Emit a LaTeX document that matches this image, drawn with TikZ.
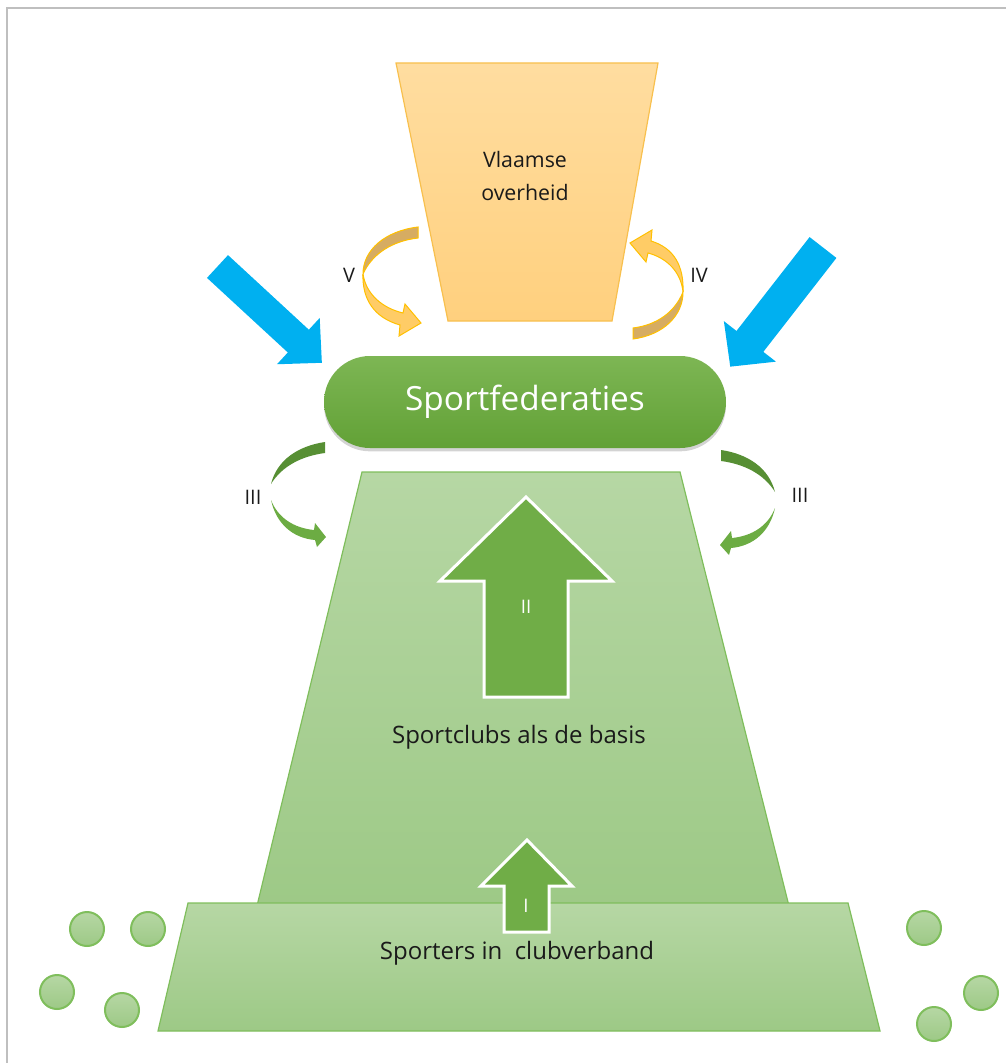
\documentclass[tikz,border=0pt]{standalone}
\usepackage{fontspec}
\setmainfont{Open Sans}[Ligatures=NoCommon]
\usetikzlibrary{shadows}
\definecolor{txt}{HTML}{1A1A1A}
\definecolor{orTop}{HTML}{FFDDA0}
\definecolor{orBot}{HTML}{FFD07E}
\definecolor{orEdge}{HTML}{F8C04E}
\definecolor{orLight}{HTML}{FFCC66}
\definecolor{orDark}{HTML}{D6AC62}
\definecolor{orLine}{HTML}{FFC000}
\definecolor{gTop}{HTML}{B6D7A4}
\definecolor{gBot}{HTML}{9DC986}
\definecolor{gEdge}{HTML}{7FBE5C}
\definecolor{gArrow}{HTML}{70AD47}
\definecolor{gPillT}{HTML}{7DB654}
\definecolor{gPillB}{HTML}{62A136}
\definecolor{gDark}{HTML}{578F34}
\definecolor{gMid}{HTML}{6CAC43}
\definecolor{blueA}{HTML}{00B0F0}
\definecolor{frameC}{HTML}{BFBFBF}
\tikzset{
  lbl/.style={text=txt, font=\fontsize{15}{18}\selectfont, inner sep=0pt},
  bigarrow/.style={fill=gArrow, draw=white, line width=2.25pt, line join=miter},
  bluearrow/.style={fill=blueA, draw=none},
  ball/.style={circle, minimum size=25.5pt, inner sep=0pt, top color=gTop, bottom color=gBot, draw=gEdge, line width=1.5pt},
  trap/.style={top color=gTop, bottom color=gBot, draw=gEdge, line width=0.9pt},
}
\begin{document}
\begin{tikzpicture}[x=0.75pt,y=-0.75pt]
\useasboundingbox (0,0) rectangle (1006,1063);
% frame
\draw[frameC, line width=1.1pt] (7,1063) -- (7,8) -- (1006,8);

% top trapezoid
\path[top color=orTop, bottom color=orBot, draw=orEdge, line width=0.9pt]
  (396,63) -- (658,63) -- (612,321) -- (448,321) -- cycle;
\node[lbl, align=center, font=\fontsize{16}{25}\selectfont] (vo) at (525,176) {Vlaamse\\overheid};

% curved arrow V
\begin{scope}
  \path[fill=orDark, draw=orLine, line width=0.75pt]
    (418,227) .. controls (385,231) and (363,250) .. (363,274)
    .. controls (372,254) and (392,241) .. (418,238) -- cycle;
  \path[fill=orLight, draw=orLine, line width=0.75pt]
    (363,274) .. controls (366,294) and (382,308) .. (403,313) -- (405,304) -- (421,323) -- (399,336) -- (400,325)
    .. controls (375,318) and (362,300) .. (363,274) -- cycle;
\end{scope}
% curved arrow IV
\begin{scope}[rotate around={180:(525.5,283)}]
  \path[fill=orDark, draw=orLine, line width=0.75pt]
    (418,227) .. controls (388,231) and (368,250) .. (368,274)
    .. controls (376,254) and (394,241) .. (418,238) -- cycle;
  \path[fill=orLight, draw=orLine, line width=0.75pt]
    (368,274) .. controls (370,294) and (384,308) .. (403,313) -- (405,304) -- (421,323) -- (399,336) -- (400,325)
    .. controls (377,318) and (367,300) .. (368,274) -- cycle;
\end{scope}
\node[lbl] (lv) at (349,275) {V};
\node[lbl] (liv) at (699,275) {IV};

% blue arrows
\begin{scope}[shift={(217.5,266.5)}, rotate=-42.7]
  \path[bluearrow] (0,-15.5) -- (110,-15.5) -- (110,-31.5) -- (142,0) -- (110,31.5) -- (110,15.5) -- (0,15.5) -- cycle;
\end{scope}
\begin{scope}[shift={(823,247.5)}, rotate=-127.9]
  \path[bluearrow] (0,-17) -- (119,-17) -- (119,-33) -- (151,0) -- (119,33) -- (119,17) -- (0,17) -- cycle;
\end{scope}

% pill
\node[minimum width=301.5pt, minimum height=69pt, rounded corners=34.5pt,
      top color=gPillT, bottom color=gPillB, draw=none,
      drop shadow={opacity=0.35, shadow xshift=0pt, shadow yshift=-2.5pt},
      text=white, font=\fontsize{25}{28}\selectfont] (sf) at (525,402) {Sportfederaties};

% curved arrows III
\begin{scope}
  \path[fill=gDark]
    (325,442) .. controls (298,446) and (277,460) .. (271,484)
    .. controls (282,466) and (302,456) .. (325,453) -- cycle;
  \path[fill=gMid]
    (271,500) .. controls (278,518) and (294,528) .. (314,530) -- (315,523) -- (326,537) -- (317,547) -- (315,540)
    .. controls (292,538) and (276,523) .. (271,500) -- cycle;
\end{scope}
\begin{scope}[shift={(1046,8)}, xscale=-1]
  \path[fill=gDark]
    (325,442) .. controls (298,446) and (277,460) .. (271,484)
    .. controls (282,466) and (302,456) .. (325,453) -- cycle;
  \path[fill=gMid]
    (271,500) .. controls (278,518) and (294,528) .. (314,530) -- (315,523) -- (326,537) -- (317,547) -- (315,540)
    .. controls (292,538) and (276,523) .. (271,500) -- cycle;
\end{scope}
\node[lbl] (l3a) at (253,497) {III};
\node[lbl] (l3b) at (800,495) {III};

% green trapezoids
\path[trap] (362,472) -- (680,472) -- (790,910) -- (256,910) -- cycle;
\path[trap] (188,903) -- (848,903) -- (880,1031) -- (158,1031) -- cycle;

% arrow II
\path[bigarrow] (526,497) -- (612,581) -- (568,581) -- (568,697) -- (484,697) -- (484,581) -- (440,581) -- cycle;
\node[text=white, font=\fontsize{14}{17}\selectfont] (l2) at (526,607) {II};
% arrow I
\path[bigarrow] (527,840) -- (572,886) -- (549,886) -- (549,932) -- (504,932) -- (504,886) -- (481,886) -- cycle;
\node[text=white, font=\fontsize{14}{17}\selectfont] (l1) at (526,906) {I};

\node[lbl, font=\fontsize{18}{22}\selectfont] (sc) at (519,737) {Sportclubs als de basis};
\node[lbl, font=\fontsize{18}{22}\selectfont] (sp) at (517,953) {Sporters in\ \ clubverband};

% balls
\node[ball] (b1) at (87,929) {};
\node[ball] (b2) at (148,929) {};
\node[ball] (b3) at (57,992) {};
\node[ball] (b4) at (122,1010) {};
\node[ball] (b5) at (924,928) {};
\node[ball] (b6) at (981,993) {};
\node[ball] (b7) at (934,1024) {};
\end{tikzpicture}
\end{document}
